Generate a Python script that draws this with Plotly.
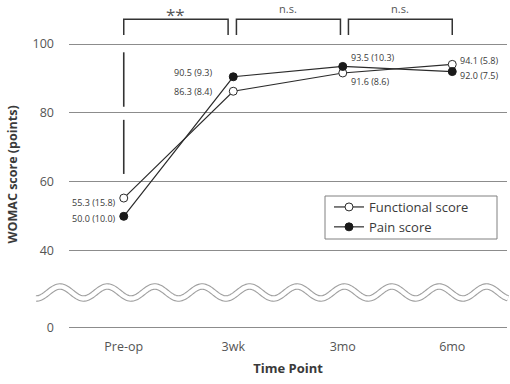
import numpy as np
import plotly.graph_objects as go

# ---------------- data ----------------
time_points = ["Pre-op", "3wk", "3mo", "6mo"]
functional_mean = [55.3, 86.3, 91.6, 94.1]
functional_sd = [15.8, 8.4, 8.6, 5.8]
pain_mean = [50.0, 90.5, 93.5, 92.0]
pain_sd = [10.0, 9.3, 10.3, 7.5]
y_tick_labels = ["0", "40", "60", "80", "100"]
comparison_labels = ["**", "n.s.", "n.s."]

# ---------------- layout geometry (style) ----------------
W, H = 510, 384
ML, MR, MT, MB = 69, 3, 43, 55
PW, PH = W - ML - MR, H - MT - MB
Y0, Y1 = 17.3, 100.3
ZERO_POS = 17.6          # where the broken-axis "0" sits
tick_positions = [ZERO_POS, 40, 60, 80, 100]
FONT = "Open Sans"
TXT = "#3a3a3a"


def xp_px(px):
    return (px - ML) / PW


def yp_px(py):
    return (H - MB - py) / PH


def xp_idx(i):
    return (i + 0.5) / len(time_points)


def yp_val(v):
    return (v - Y0) / (Y1 - Y0)


fig = go.Figure()

fig.add_trace(go.Scatter(
    x=time_points, y=functional_mean, name="Functional score",
    mode="lines+markers",
    line=dict(color="#2b2b2b", width=1.2),
    marker=dict(symbol="circle", size=8, color="white",
                line=dict(color="#2b2b2b", width=1)),
))
fig.add_trace(go.Scatter(
    x=time_points, y=pain_mean, name="Pain score",
    mode="lines+markers",
    line=dict(color="#2b2b2b", width=1.2),
    marker=dict(symbol="circle", size=8, color="#1a1a1a",
                line=dict(color="#1a1a1a", width=1)),
))

# value labels: (xanchor, xshift, yshift) per point (style only)
func_label_style = [("right", -6, -4), ("right", -19, 0), ("left", 6, -9), ("left", 6, 3.5)]
pain_label_style = [("right", -6, -2.5), ("right", -19, 4), ("left", 6, 9), ("left", 6, -3.5)]

annotations = []
for means, sds, styles in [(functional_mean, functional_sd, func_label_style),
                           (pain_mean, pain_sd, pain_label_style)]:
    for tp, m, s, (xa, xs, ys) in zip(time_points, means, sds, styles):
        annotations.append(dict(
            x=tp, y=m, xref="x", yref="y", text=f"{m:.1f} ({s:.1f})",
            showarrow=False, xanchor=xa, yanchor="middle", xshift=xs, yshift=ys,
            font=dict(family=FONT, size=9, color=TXT)))

shapes = []
# significance brackets between consecutive time points
bracket_spans = [(0.0, 0.953), (1.029, 1.979), (2.052, 3.0)]
top_y, bot_y = yp_px(19.3), yp_px(35)
for (a, b), lab in zip(bracket_spans, comparison_labels):
    xa, xb = xp_idx(a), xp_idx(b)
    shapes.append(dict(type="path", xref="paper", yref="paper",
                       path=f"M {xa},{bot_y} L {xa},{top_y} L {xb},{top_y} L {xb},{bot_y}",
                       line=dict(color="#333333", width=1.5)))
    is_star = lab.startswith("*")
    if is_star:
        annotations.append(dict(
            x=(xa + xb) / 2, y=yp_px(0.5), xref="paper", yref="paper",
            text=lab, showarrow=False, xanchor="center", yanchor="top",
            font=dict(family=FONT, size=17, color="#555555")))
    else:
        annotations.append(dict(
            x=(xa + xb) / 2, y=yp_px(9), xref="paper", yref="paper",
            text=lab, showarrow=False, xanchor="center", yanchor="middle",
            font=dict(family=FONT, size=11, color="#555555")))

# vertical marker line at Pre-op (broken at the 80 grid line)
for v0, v1 in [(97.6, 81.8), (78.0, 62.3)]:
    shapes.append(dict(type="line", xref="paper", yref="paper",
                       x0=xp_idx(0), x1=xp_idx(0), y0=yp_val(v0), y1=yp_val(v1),
                       line=dict(color="#333333", width=1.6)))

# axis-break wave
px = np.linspace(36, 508, 400)
py = 292.5 - 6 * np.cos(2 * np.pi * (px - 60) / 47.4)
path = "M " + " L ".join(f"{xp_px(a):.5f},{yp_px(b):.5f}" for a, b in zip(px, py))
shapes.append(dict(type="path", xref="paper", yref="paper", path=path,
                   line=dict(color="#a0a0a0", width=6.5), layer="above"))
shapes.append(dict(type="path", xref="paper", yref="paper", path=path,
                   line=dict(color="white", width=4.3), layer="above"))

# legend frame
shapes.append(dict(type="rect", xref="paper", yref="paper",
                   x0=xp_px(325), x1=xp_px(497), y0=yp_px(239), y1=yp_px(196),
                   line=dict(color="#808080", width=1), fillcolor="white", layer="below"))

# y-axis title
annotations.append(dict(
    x=xp_px(12), y=yp_px(174.5), xref="paper", yref="paper",
    text="<b>WOMAC score (points)</b>", textangle=-90, showarrow=False,
    xanchor="center", yanchor="middle",
    font=dict(family=FONT, size=12.5, color=TXT)))

fig.update_layout(
    width=W, height=H,
    margin=dict(l=ML, r=MR, t=MT, b=MB, autoexpand=False),
    paper_bgcolor="white", plot_bgcolor="rgba(0,0,0,0)",
    font=dict(family=FONT, color=TXT),
    showlegend=True,
    legend=dict(x=xp_px(329), y=yp_px(192), xanchor="left", yanchor="top",
                borderwidth=0, bgcolor="rgba(0,0,0,0)",
                font=dict(family=FONT, size=13, color=TXT),
                itemwidth=30, tracegroupgap=0),
    xaxis=dict(type="category", range=[-0.5, 3.5], showgrid=False, zeroline=False,
               showline=False, ticks="", tickfont=dict(family=FONT, size=12.5, color="#555555"),
               ticklabelstandoff=8,
               title=dict(text="<b>Time Point</b>", font=dict(family=FONT, size=13, color=TXT),
                          standoff=10)),
    yaxis=dict(range=[Y0, Y1], tickvals=tick_positions, ticktext=y_tick_labels,
               showgrid=True, gridcolor="#8c8c8c", gridwidth=1, zeroline=False,
               showline=False, ticks="", ticklabelstandoff=14,
               tickfont=dict(family=FONT, size=12.5, color="#555555")),
    shapes=shapes,
    annotations=annotations,
)

fig.write_html("out.html")
